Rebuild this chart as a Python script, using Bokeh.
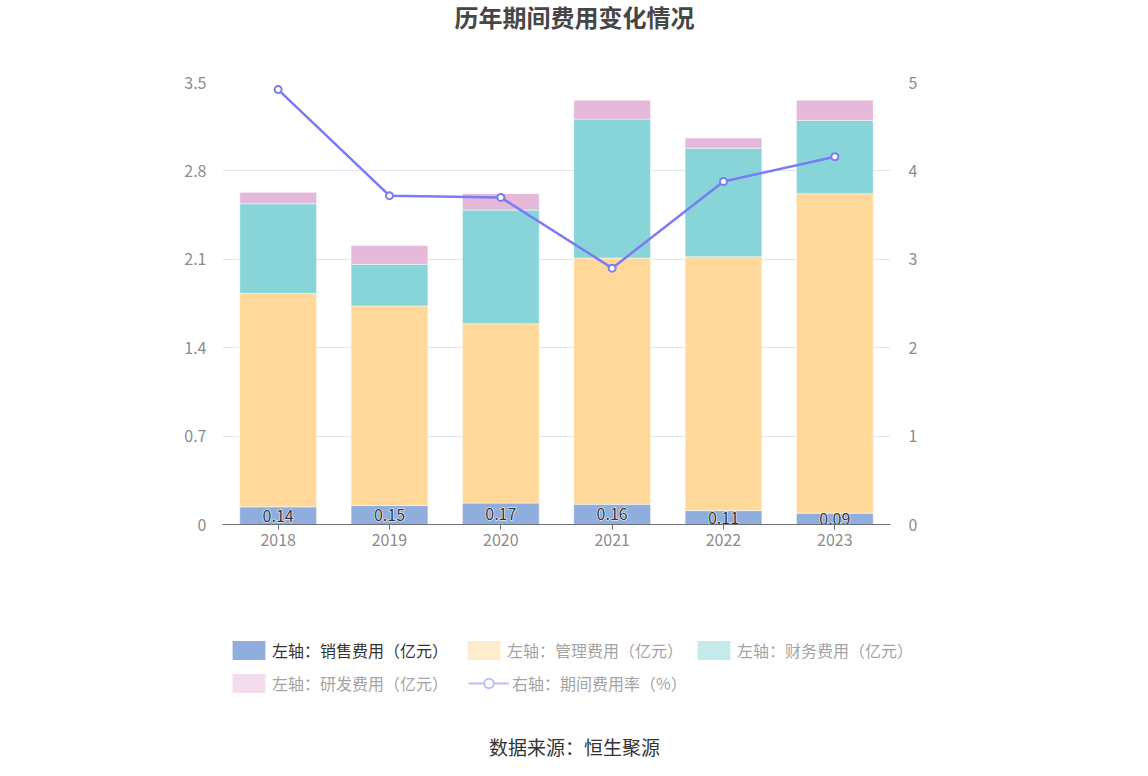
from bokeh.plotting import figure
from bokeh.layouts import column
from bokeh.models import (ColumnDataSource, Range1d, LinearAxis, FactorRange, FixedTicker,
                          Legend, LegendItem, Label)
from bokeh.core.properties import value
from bokeh.embed import file_html
from bokeh.resources import INLINE

# ---- data ----
years = ["2018", "2019", "2020", "2021", "2022", "2023"]
sales = [0.14, 0.15, 0.17, 0.16, 0.11, 0.09]          # 销售费用（亿元）
mgmt = [1.69, 1.58, 1.42, 1.95, 2.01, 2.53]           # 管理费用（亿元）
finance = [0.71, 0.33, 0.90, 1.10, 0.86, 0.58]        # 财务费用（亿元）
rnd = [0.09, 0.15, 0.13, 0.15, 0.08, 0.16]            # 研发费用（亿元）
rate = [4.92, 3.72, 3.70, 2.90, 3.88, 4.16]           # 期间费用率（%）
left_ticks = [0, 0.7, 1.4, 2.1, 2.8, 3.5]
left_tick_labels = ["0", "0.7", "1.4", "2.1", "2.8", "3.5"]
right_ticks = [0, 1, 2, 3, 4, 5]
series_names = ["左轴：销售费用（亿元）", "左轴：管理费用（亿元）", "左轴：财务费用（亿元）",
                "左轴：研发费用（亿元）", "右轴：期间费用率（%）"]
title_text = "历年期间费用变化情况"
source_text = "数据来源：恒生聚源"

FONT = "Noto Sans CJK SC"
C_SALES, C_MGMT, C_FIN, C_RND = "#8FAEDE", "#FFD89A", "#88D5D9", "#E6B8D9"
C_LINE = "#7B7BF5"
AXIS_GRAY = "#8C8C8C"

W = 1132
TOP_H, MAIN_H, BOT_H = 48, 520, 192


def blank_fig(h):
    f = figure(width=W, height=h, x_range=Range1d(0, W), y_range=Range1d(0, h),
               output_backend="svg", toolbar_location=None, min_border=0,
               x_axis_location=None, y_axis_location=None, frame_align=False)
    f.grid.visible = False
    f.outline_line_color = None
    return f


# ---- title ----
top = blank_fig(TOP_H)
top.add_layout(Label(x=574, y=TOP_H - 16, text=title_text, text_align="center",
                     text_baseline="middle", text_font=FONT, text_font_style="bold",
                     text_font_size="24px", text_color="#464646"))

# ---- main chart ----
p = figure(width=W, height=MAIN_H, x_range=FactorRange(*years), y_range=Range1d(0, 3.5),
           output_backend="svg", toolbar_location=None, frame_align=False,
           min_border_left=222, min_border_right=242, min_border_top=34, min_border_bottom=44)
p.extra_y_ranges = {"right": Range1d(0, 5)}
p.outline_line_color = None

src = ColumnDataSource(dict(
    year=years, sales=sales, mgmt=mgmt, finance=finance, rnd=rnd, rate=rate,
    label_y=[s / 2 for s in sales], label=[f"{s:.2f}" for s in sales],
))

bars = p.vbar_stack(["sales", "mgmt", "finance", "rnd"], x="year", width=0.69,
                    color=[C_SALES, C_MGMT, C_FIN, C_RND], line_color="white",
                    line_width=0.8, line_alpha=0.6, source=src)

# value labels with white halo
p.text(x="year", y="label_y", text="label", text_align="center", text_baseline="middle",
       text_font=value(FONT), text_font_size="16px", text_color="white",
       text_outline_color="white", source=src)
p.text(x="year", y="label_y", text="label", text_align="center", text_baseline="middle",
       text_font=value(FONT), text_font_size="16px", text_color="#333333", source=src)

p.line(x="year", y="rate", y_range_name="right", line_color=C_LINE, line_width=2.5, source=src)
p.scatter(x="year", y="rate", y_range_name="right", marker="circle", size=7,
          fill_color="white", line_color=C_LINE, line_width=2, source=src)

ly = p.yaxis[0]
ly.ticker = FixedTicker(ticks=left_ticks)
ly.major_label_overrides = {t: l for t, l in zip(left_ticks, left_tick_labels)}
ly.axis_line_color = None
ly.major_tick_line_color = None
ly.minor_tick_line_color = None
ly.major_label_standoff = 10
ly.major_label_text_color = AXIS_GRAY
ly.major_label_text_font = FONT
ly.major_label_text_font_size = "16px"

ry = LinearAxis(y_range_name="right", ticker=FixedTicker(ticks=right_ticks))
ry.axis_line_color = None
ry.major_tick_line_color = None
ry.minor_tick_line_color = None
ry.major_label_standoff = 12
ry.major_label_text_color = AXIS_GRAY
ry.major_label_text_font = FONT
ry.major_label_text_font_size = "16px"
p.add_layout(ry, "right")

xa = p.xaxis[0]
xa.axis_line_color = "#6E7079"
xa.major_tick_line_color = "#6E7079"
xa.major_tick_out = 5
xa.major_tick_in = 0
xa.major_label_standoff = 4
xa.major_label_text_color = AXIS_GRAY
xa.major_label_text_font = FONT
xa.major_label_text_font_size = "16px"

p.xgrid.visible = False
p.ygrid.ticker = FixedTicker(ticks=left_ticks)
p.ygrid.grid_line_color = "#E0E6F1"

# ---- legend + source ----
bot = blank_fig(BOT_H)
lsrc = ColumnDataSource(dict(i=list(range(len(years))), sales=sales, mgmt=mgmt,
                             finance=finance, rnd=rnd, rate=rate))
# hidden legend proxies (the legend draws their icons; they draw nothing themselves)
px_sales = bot.vbar(x="i", top="sales", width=0.69, fill_color=C_SALES, line_color=None,
                    source=lsrc, visible=False)
px_mgmt = bot.vbar(x="i", top="mgmt", width=0.69, fill_color=C_MGMT, line_color=None,
                   source=lsrc, visible=False)
px_fin = bot.vbar(x="i", top="finance", width=0.69, fill_color=C_FIN, line_color=None,
                  source=lsrc, visible=False)
px_rnd = bot.vbar(x="i", top="rnd", width=0.69, fill_color=C_RND, line_color=None,
                  source=lsrc, visible=False)
px_line = bot.line(x="i", y="rate", line_color=C_LINE, line_width=2, source=lsrc,
                   visible=False)
px_mark = bot.scatter(x="i", y="rate", marker="circle", size=15, fill_color="white",
                      line_color=C_LINE, line_width=2, source=lsrc, visible=False)

common = dict(orientation="horizontal", glyph_width=41, glyph_height=24, label_standoff=3,
              padding=0, margin=0, border_line_color=None,
              background_fill_alpha=0, label_text_font=FONT, label_text_font_size="16px",
              label_height=24, inactive_fill_color="white", inactive_fill_alpha=0.5)
legA = Legend(items=[LegendItem(label=series_names[0], renderers=[px_sales])],
              location=(228, 98), label_text_color="#333333", click_policy="none",
              spacing=20, **common)
legB = Legend(items=[LegendItem(label=series_names[1], renderers=[px_mgmt]),
                     LegendItem(label=series_names[2], renderers=[px_fin])],
              location=(463, 98), label_text_color="#444444", click_policy="hide",
              spacing=10, **common)
legC = Legend(items=[LegendItem(label=series_names[3], renderers=[px_rnd]),
                     LegendItem(label=series_names[4], renderers=[px_line, px_mark])],
              location=(228, 65), label_text_color="#444444", click_policy="hide",
              spacing=20, **common)
for lg in (legA, legB, legC):
    bot.add_layout(lg, "center")

bot.add_layout(Label(x=574, y=BOT_H - 178, text=source_text, text_align="center",
                     text_baseline="middle", text_font=FONT, text_font_size="19px",
                     text_color="#333333"))

layout = column(top, p, bot, spacing=0)
open("out.html", "w").write(file_html(layout, INLINE))
